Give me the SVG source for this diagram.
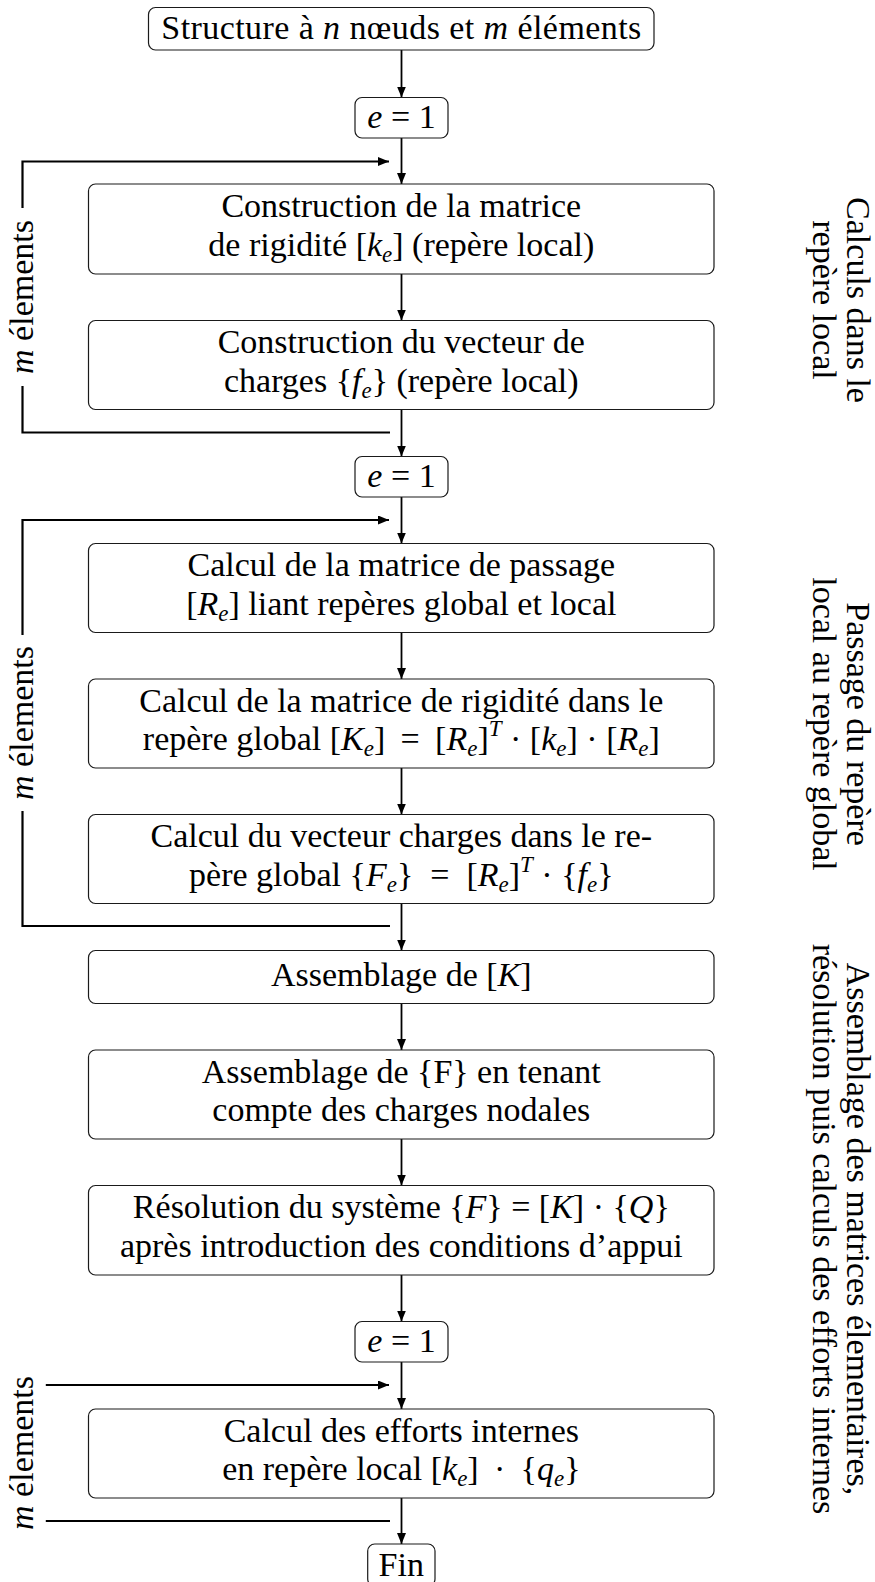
<svg xmlns="http://www.w3.org/2000/svg" width="875" height="1582" viewBox="0 0 875 1582">
<style>
.box{fill:#fff;stroke:#1a1a1a;stroke-width:1.2}
.t{font-family:"Liberation Serif","Times New Roman",serif;font-size:34px;fill:#000;text-anchor:middle;white-space:pre}
.i{font-style:italic}
.s{font-size:23px}
.ar{fill:none;stroke:#000;stroke-width:1.8}
.lp{fill:none;stroke:#000;stroke-width:2.2}
</style>
<defs>
<marker id="ah" markerUnits="userSpaceOnUse" markerWidth="12" markerHeight="10" refX="11" refY="4.5" orient="auto">
<path d="M0,0 L11,4.5 L0,9 z" fill="#000"/>
</marker>
</defs>
<rect width="875" height="1582" fill="#fff"/>

<g id="connectors">
<path class="ar" d="M401.5,50 V97.5" marker-end="url(#ah)"/>
<path class="ar" d="M401.5,138 V184" marker-end="url(#ah)"/>
<path class="lp" d="M22.5,208 V161.5 H389" marker-end="url(#ah)"/>
<path class="lp" d="M22.5,386 V432.5 H390"/>
<path class="ar" d="M401.5,274 V320.5" marker-end="url(#ah)"/>
<path class="ar" d="M401.5,409.5 V456.5" marker-end="url(#ah)"/>
<path class="ar" d="M401.5,497 V543.5" marker-end="url(#ah)"/>
<path class="lp" d="M22.5,635 V520 H389" marker-end="url(#ah)"/>
<path class="lp" d="M22.5,811 V926 H390"/>
<path class="ar" d="M401.5,632.5 V679" marker-end="url(#ah)"/>
<path class="ar" d="M401.5,768 V814.5" marker-end="url(#ah)"/>
<path class="ar" d="M401.5,903.5 V950.5" marker-end="url(#ah)"/>
<path class="ar" d="M401.5,1003.5 V1050" marker-end="url(#ah)"/>
<path class="ar" d="M401.5,1139 V1185.5" marker-end="url(#ah)"/>
<path class="ar" d="M401.5,1275 V1321.5" marker-end="url(#ah)"/>
<path class="ar" d="M401.5,1362 V1409" marker-end="url(#ah)"/>
<path class="lp" d="M45.8,1385 H389" marker-end="url(#ah)"/>
<path class="ar" d="M401.5,1498 V1544" marker-end="url(#ah)"/>
<path class="lp" d="M45.8,1521 H390"/>
</g>

<g id="start">
<rect class="box" x="148.5" y="7.5" width="505.5" height="42.5" rx="7"/>
<text class="t" x="401.3" y="39.3" textLength="480" lengthAdjust="spacing">Structure à <tspan class="i">n</tspan> nœuds et <tspan class="i">m</tspan> éléments</text>
</g>

<g id="init1">
<rect class="box" x="355" y="97.5" width="93" height="40.5" rx="7"/>
<text class="t" x="401.5" y="127.7"><tspan class="i">e</tspan> = 1</text>
</g>

<g id="n-rigidite-locale">
<rect class="box" x="88.5" y="184" width="625.5" height="90" rx="7"/>
<text class="t" x="401.3" y="217">Construction de la matrice</text>
<text class="t" x="401.3" y="255.5">de rigidité [<tspan class="i">k</tspan><tspan class="i s" dy="6">e</tspan><tspan dy="-6">] (repère local)</tspan></text>
</g>

<g id="n-charges-locales">
<rect class="box" x="88.5" y="320.5" width="625.5" height="89" rx="7"/>
<text class="t" x="401.3" y="353">Construction du vecteur de</text>
<text class="t" x="401.3" y="391.5">charges {<tspan class="i">f</tspan><tspan class="i s" dy="6">e</tspan><tspan dy="-6">} (repère local)</tspan></text>
</g>

<g id="init2">
<rect class="box" x="355" y="456.5" width="93" height="40.5" rx="7"/>
<text class="t" x="401.5" y="486.7"><tspan class="i">e</tspan> = 1</text>
</g>

<g id="n-passage">
<rect class="box" x="88.5" y="543.5" width="625.5" height="89" rx="7"/>
<text class="t" x="401.3" y="576">Calcul de la matrice de passage</text>
<text class="t" x="401.3" y="614.5">[<tspan class="i">R</tspan><tspan class="i s" dy="6">e</tspan><tspan dy="-6">] liant repères global et local</tspan></text>
</g>

<g id="n-rigidite-globale">
<rect class="box" x="88.5" y="679" width="625.5" height="89" rx="7"/>
<text class="t" x="401.3" y="711.5">Calcul de la matrice de rigidité dans le</text>
<text class="t" x="401.3" y="750">repère global [<tspan class="i">K</tspan><tspan class="i s" dy="6">e</tspan><tspan dy="-6">] &#8201;=&#8201; [</tspan><tspan class="i">R</tspan><tspan class="i s" dy="6">e</tspan><tspan dy="-6">]</tspan><tspan class="i s" dy="-14">T</tspan><tspan dy="14"> · [</tspan><tspan class="i">k</tspan><tspan class="i s" dy="6">e</tspan><tspan dy="-6">] · [</tspan><tspan class="i">R</tspan><tspan class="i s" dy="6">e</tspan><tspan dy="-6">]</tspan></text>
</g>

<g id="n-charges-globales">
<rect class="box" x="88.5" y="814.5" width="625.5" height="89" rx="7"/>
<text class="t" x="401.3" y="847">Calcul du vecteur charges dans le re-</text>
<text class="t" x="401.3" y="885.5">père global {<tspan class="i">F</tspan><tspan class="i s" dy="6">e</tspan><tspan dy="-6">}  =  [</tspan><tspan class="i">R</tspan><tspan class="i s" dy="6">e</tspan><tspan dy="-6">]</tspan><tspan class="i s" dy="-14">T</tspan><tspan dy="14"> · {</tspan><tspan class="i">f</tspan><tspan class="i s" dy="6">e</tspan><tspan dy="-6">}</tspan></text>
</g>

<g id="n-assemblage-K">
<rect class="box" x="88.5" y="950.5" width="625.5" height="53" rx="7"/>
<text class="t" x="401.3" y="985.5">Assemblage de [<tspan class="i">K</tspan>]</text>
</g>

<g id="n-assemblage-F">
<rect class="box" x="88.5" y="1050" width="625.5" height="89" rx="7"/>
<text class="t" x="401.3" y="1082.5">Assemblage de {F} en tenant</text>
<text class="t" x="401.3" y="1121">compte des charges nodales</text>
</g>

<g id="n-resolution">
<rect class="box" x="88.5" y="1185.5" width="625.5" height="89.5" rx="7"/>
<text class="t" x="401.3" y="1218">Résolution du système {<tspan class="i">F</tspan>} = [<tspan class="i">K</tspan>] · {<tspan class="i">Q</tspan>}</text>
<text class="t" x="401.3" y="1256.5">après introduction des conditions d’appui</text>
</g>

<g id="init3">
<rect class="box" x="355" y="1321.5" width="93" height="40.5" rx="7"/>
<text class="t" x="401.5" y="1351.7"><tspan class="i">e</tspan> = 1</text>
</g>

<g id="n-efforts">
<rect class="box" x="88.5" y="1409" width="625.5" height="89" rx="7"/>
<text class="t" x="401.3" y="1441.5">Calcul des efforts internes</text>
<text class="t" x="401.3" y="1480">en repère local [<tspan class="i">k</tspan><tspan class="i s" dy="6">e</tspan><tspan dy="-6">] &#8201;·&#8201; {</tspan><tspan class="i">q</tspan><tspan class="i s" dy="6">e</tspan><tspan dy="-6">}</tspan></text>
</g>

<g id="fin">
<rect class="box" x="367.7" y="1544" width="67.3" height="42" rx="7"/>
<text class="t" x="401.3" y="1576">Fin</text>
</g>

<g id="loop-labels">
<text class="t" transform="translate(33,297) rotate(-90)"><tspan class="i">m</tspan> élements</text>
<text class="t" transform="translate(33,723) rotate(-90)"><tspan class="i">m</tspan> élements</text>
<text class="t" transform="translate(33,1453) rotate(-90)"><tspan class="i">m</tspan> élements</text>
</g>

<g id="phase-labels">
<text class="t" transform="translate(830,300) rotate(90)"><tspan x="0" y="-17">Calculs dans le</tspan><tspan x="0" y="17">repère local</tspan></text>
<text class="t" transform="translate(830,724) rotate(90)"><tspan x="0" y="-17">Passage du repère</tspan><tspan x="0" y="17">local au repère global</tspan></text>
<text class="t" transform="translate(830,1229) rotate(90)"><tspan x="0" y="-17">Assemblage des matrices élementaires,</tspan><tspan x="0" y="17">résolution puis calculs des efforts internes</tspan></text>
</g>
</svg>
